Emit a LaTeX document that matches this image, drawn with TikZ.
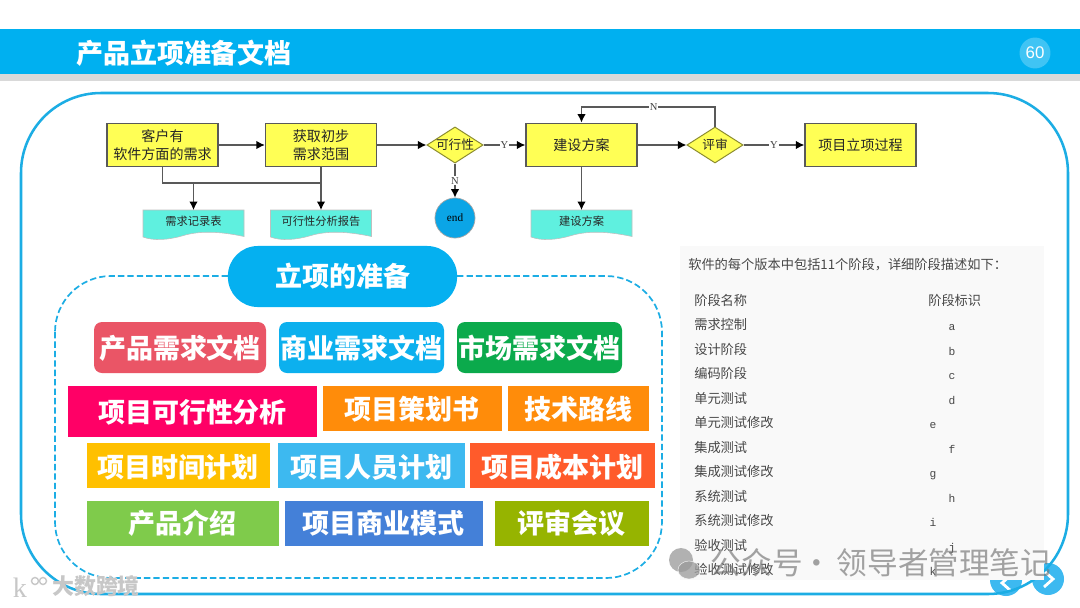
\documentclass[tikz,border=0pt]{standalone}
\usepackage{fontspec}
\setmainfont{Noto Sans CJK SC}
\newfontfamily\latin{Liberation Serif}
\newfontfamily\mono{Liberation Mono}
\newfontfamily\arial{Liberation Sans}
\usetikzlibrary{calc,arrows.meta,shapes.geometric,positioning}
\definecolor{cHead}{HTML}{00B0F0}
\definecolor{cEdge}{HTML}{1CADE4}
\definecolor{cPill}{HTML}{05B0F0}
\definecolor{cYel}{HTML}{FFFF55}
\definecolor{cDoc}{HTML}{5FF0DF}
\definecolor{cEnd}{HTML}{0BA5E6}
\definecolor{cRose}{HTML}{EA5566}
\definecolor{cSky}{HTML}{0CB0EE}
\definecolor{cGrass}{HTML}{0BAA4C}
\definecolor{cPink}{HTML}{FF0066}
\definecolor{cOrange}{HTML}{FF8C0A}
\definecolor{cGold}{HTML}{FFC000}
\definecolor{cAzure}{HTML}{3DB9F0}
\definecolor{cRed}{HTML}{FF5B2B}
\definecolor{cLime}{HTML}{7FCB4B}
\definecolor{cBlue}{HTML}{4480D8}
\definecolor{cOlive}{HTML}{96B400}
\tikzset{
  stepbox/.style={rectangle,draw=black!65,line width=.9pt,fill=cYel,minimum width=79pt,minimum height=31pt,inner sep=0pt,align=center,font=\fontsize{10}{12.8}\selectfont,text=black!85},
  check/.style={diamond,aspect=1.55,draw=black!45!cYel,line width=.7pt,fill=cYel,minimum width=40pt,minimum height=25.6pt,inner sep=0pt,font=\fontsize{9}{11}\selectfont,text=black!85},
  flow/.style={line width=.9pt,black!65},
  flowar/.style={flow,-{Latex[length=6pt,width=6pt,black]}},
  yn/.style={fill=white,inner sep=.6pt,font=\latin\fontsize{7.5}{9}\selectfont,text=black!75},
  doctxt/.style={font=\fontsize{8}{10}\selectfont,text=black!85,inner sep=0pt},
  docbody/.style={fill=cDoc,draw=black!25,line width=.4pt},
  card/.style={rectangle,inner sep=0pt,text=white,font=\fontsize{19.2}{23}\selectfont\bfseries},
  cell/.style={anchor=west,inner sep=0pt,text=black!72,font=\fontsize{9.4}{11}\selectfont},
  tag/.style={anchor=base,inner sep=0pt,text=black!72,font=\mono\fontsize{8}{10}\selectfont},
}
\begin{document}
\begin{tikzpicture}[x=0.025cm,y=-0.025cm]
  \useasboundingbox (0,0) rectangle (1080,607);
  % header
  \fill[white] (0,0) rectangle (1080,607);
  \fill[black!15] (0,74) rectangle (1080,81);
  \fill[cHead] (0,29) rectangle (1080,74);
  \node[card] (title) at (184,53) {产品立项准备文档};
  \node[circle,fill=white!25!cHead,minimum size=22pt,inner sep=0pt,text=white,font=\arial\fontsize{12}{14}\selectfont] (page) at (1035,53) {60};
  % nav buttons
  \fill[cAzure] (1006,580) circle (16);
  \fill[cAzure] (1048,579) circle (16);
  \draw[white,line width=2pt] (1011,575) -- (1002,583) -- (1011,591);
  \draw[white,line width=2pt] (1044,571) -- (1053,579) -- (1044,587);
  % outer frame
  \draw[cEdge,line width=1.8pt,rounded corners=2cm] (21,93) rectangle (1068,594);
  % flow chart
  \node[stepbox] (need) at (162.5,145) {客户有\\软件方面的需求};
  \node[stepbox] (scope) at (321,145) {获取初步\\需求范围};
  \node[check] (feas) at (455,145) {可行性};
  \node[stepbox] (plan) at (581.5,145) {建设方案};
  \node[check] (review) at (715,145) {评审};
  \node[stepbox] (proc) at (860.5,145) {项目立项过程};
  \node[circle,draw=black!35,line width=.5pt,fill=cEnd,minimum size=28.5pt,inner sep=0pt,font=\latin\fontsize{8}{10}\selectfont] (end) at (455,218) {end};
  % output documents
  \foreach \nm/\cx/\txt in {doca/193.5/需求记录表,docb/321/可行性分析报告,docc/581.5/建设方案}{
    \draw[docbody] (\cx-50.5,210) -- (\cx+50.5,210) -- (\cx+50.5,236.5)
      .. controls (\cx+25,231) and (\cx+5,231) .. (\cx-10,235.5)
      .. controls (\cx-25,240) and (\cx-40,241) .. (\cx-50.5,237) -- cycle;
    \coordinate (\nm-top) at (\cx,210);
    \node[doctxt] (\nm) at (\cx,221.5) {\txt};
  }
  \draw[flowar] (need) -- (scope);
  \draw[flowar] (scope) -- (feas);
  \draw[flowar] (feas) -- node[yn] {Y} (plan);
  \draw[flowar] (plan) -- (review);
  \draw[flowar] (review) -- node[yn] {Y} (proc);
  \draw[flowar] (feas) -- node[yn] {N} (end);
  \draw[flowar] (plan.south) -- (docc-top);
  \draw[flowar] (scope.south) -- (docb-top);
  \coordinate (joint) at (193.5,183);
  \draw[flow] (need.south) |- (scope.south |- joint);
  \draw[flowar] (joint) -- (doca-top);
  \draw[flowar] (review.north) |- node[yn,pos=.73] {N} (plan.north |- 0,107) -- (plan.north);
  % preparation block
  \draw[cEdge,line width=1.2pt,dash pattern=on 4.5pt off 2.2pt,rounded corners=1.4cm] (55,276) rectangle (662,578);
  \node[rectangle,rounded corners=.75cm,fill=cPill,minimum width=163pt,minimum height=43.4pt,inner sep=0pt,text=white,font=\fontsize{19.2}{23}\selectfont\bfseries] (prep) at (342.5,276.5) {立项的准备};
  \foreach \nm/\xa/\xb/\ya/\yb/\col/\txt in {
    prd/94/266/322/373/cRose/产品需求文档,
    bus/279/444/322/373/cSky/商业需求文档,
    mkt/457/622/322/373/cGrass/市场需求文档}{
    \fill[\col,rounded corners=.2cm] (\xa,\ya) rectangle (\xb,\yb);
    \node[card] (\nm) at ({(\xa+\xb)/2},{(\ya+\yb)/2+1}) {\txt};
  }
  \foreach \nm/\xa/\xb/\ya/\yb/\col/\cx/\cy/\txt in {
    feasib/68/317/386/437/cPink/192.5/412/项目可行性分析,
    charter/323/502/386/431/cOrange/412/409/项目策划书,
    tech/508/649/386/431/cOrange/578/409/技术路线,
    time/87/270/443/488/cGold/178/467/项目时间计划,
    staff/278/465/443/488/cAzure/371/467/项目人员计划,
    cost/470/655/443/488/cRed/562/467/项目成本计划,
    intro/87/279/501/546/cLime/182/523.5/产品介绍,
    model/285/483/501/546/cBlue/383.5/523.5/项目商业模式,
    meet/495/649/501/546/cOlive/571.5/523.5/评审会议}{
    \fill[\col] (\xa,\ya) rectangle (\xb,\yb);
    \node[card] (\nm) at (\cx,\cy) {\txt};
  }
  % stage table
  \fill[black!2.5] (680,246) rectangle (1044,580);
  \node[cell] (lead) at (688,265) {软件的每个版本中包括11个阶段，详细阶段描述如下：};
  \node[cell] (hname) at (694,300) {阶段名称};
  \node[cell] (htag) at (928,300) {阶段标识};
  \foreach \nm/\yy/\txt/\cx/\lab in {
    a/324/需求控制/952/a,b/349/设计阶段/952/b,c/373/编码阶段/952/c,d/398/单元测试/952/d,
    e/422/单元测试修改/933/e,f/447/集成测试/952/f,g/471/集成测试修改/933/g,h/496/系统测试/952/h,
    i/520/系统测试修改/933/i,j/545/验收测试/952/j,k/569/验收测试修改/933/k}{
    \node[cell] (name\nm) at (694,\yy) {\txt};
    \node[tag] (tag\nm) at (\cx,\yy+6) {\lab};
  }
  % watermarks
  \fill[black!40,opacity=.75] (681,560) ellipse (12 and 12);
  \fill[black!40,opacity=.75,draw=white] (689,570) ellipse (11 and 9);
  \node[inner sep=0pt,text=black!55,opacity=.65,font=\fontsize{21.8}{25}\selectfont] (mark) at (881,563) {公众号\hspace{-1pt}·\hspace{3.4pt}领导者管理笔记};
  \node[inner sep=0pt,text=black!22,font=\fontsize{15.6}{18}\selectfont\bfseries] (markb) at (96,586) {大数跨境};
  \node[inner sep=0pt,text=black!22,font=\latin\fontsize{20}{22}\selectfont] (markk) at (20,588) {k};
  \draw[black!22,line width=1pt] (35,581) circle (3.5) (43,581) circle (3.5);
\end{tikzpicture}
\end{document}
